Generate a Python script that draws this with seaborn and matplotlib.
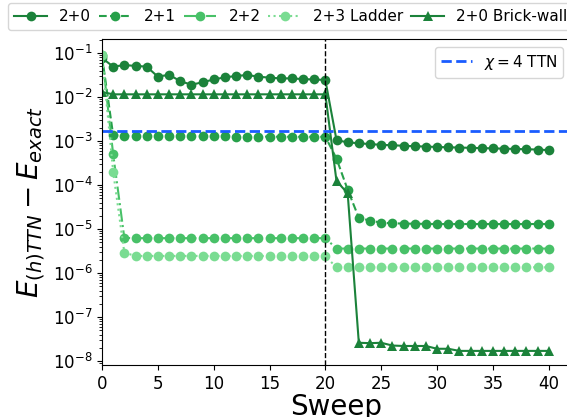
import numpy as np
import pandas as pd
import matplotlib
matplotlib.use("Agg")
import matplotlib.pyplot as plt
import seaborn as sns

# sweep index 0..40
sweeps = list(range(41))

err_2p0 = [0.077, 0.049, 0.053, 0.051, 0.049, 0.029, 0.032, 0.023, 0.019, 0.0216,
           0.025, 0.028, 0.030, 0.0316, 0.029, 0.0275, 0.0265, 0.0265, 0.0255, 0.025,
           0.0244,
           1.05e-3, 9.3e-4, 8.9e-4, 8.5e-4, 8.2e-4, 8.0e-4, 7.8e-4, 7.6e-4, 7.5e-4, 7.3e-4,
           7.2e-4, 7.1e-4, 7.0e-4, 6.9e-4, 6.8e-4, 6.7e-4, 6.6e-4, 6.5e-4, 6.4e-4, 6.2e-4]

err_2p1 = [0.085, 1.35e-3, 1.32e-3, 1.3e-3, 1.3e-3, 1.3e-3, 1.28e-3, 1.28e-3, 1.28e-3, 1.27e-3,
           1.27e-3, 1.27e-3, 1.26e-3, 1.26e-3, 1.26e-3, 1.26e-3, 1.25e-3, 1.25e-3, 1.25e-3, 1.25e-3,
           1.25e-3,
           4.0e-4, 7.8e-5, 1.8e-5, 1.55e-5, 1.4e-5, 1.35e-5, 1.33e-5, 1.32e-5, 1.31e-5, 1.3e-5,
           1.3e-5, 1.3e-5, 1.3e-5, 1.3e-5, 1.3e-5, 1.3e-5, 1.3e-5, 1.3e-5, 1.3e-5, 1.3e-5]

err_2p2 = [0.09, 5.0e-4, 6.3e-6, 6.2e-6, 6.2e-6, 6.2e-6, 6.2e-6, 6.2e-6, 6.2e-6, 6.2e-6,
           6.2e-6, 6.2e-6, 6.2e-6, 6.2e-6, 6.2e-6, 6.2e-6, 6.2e-6, 6.2e-6, 6.2e-6, 6.2e-6,
           6.2e-6,
           3.6e-6, 3.6e-6, 3.6e-6, 3.6e-6, 3.6e-6, 3.6e-6, 3.6e-6, 3.6e-6, 3.6e-6, 3.6e-6,
           3.6e-6, 3.6e-6, 3.6e-6, 3.6e-6, 3.6e-6, 3.6e-6, 3.6e-6, 3.6e-6, 3.6e-6, 3.6e-6]

err_2p3 = [0.09, 2.0e-4, 2.9e-6, 2.45e-6, 2.45e-6, 2.45e-6, 2.45e-6, 2.45e-6, 2.45e-6, 2.45e-6,
           2.45e-6, 2.45e-6, 2.45e-6, 2.45e-6, 2.45e-6, 2.45e-6, 2.45e-6, 2.45e-6, 2.45e-6, 2.45e-6,
           2.4e-6,
           1.35e-6, 1.35e-6, 1.35e-6, 1.35e-6, 1.35e-6, 1.35e-6, 1.35e-6, 1.35e-6, 1.35e-6, 1.35e-6,
           1.35e-6, 1.35e-6, 1.35e-6, 1.35e-6, 1.35e-6, 1.35e-6, 1.35e-6, 1.35e-6, 1.35e-6, 1.35e-6]

err_brick = [0.013, 0.0115, 0.0115, 0.0115, 0.0115, 0.0115, 0.0115, 0.0115, 0.0115, 0.0115,
             0.0115, 0.0115, 0.0115, 0.0115, 0.0115, 0.0115, 0.0115, 0.0115, 0.0115, 0.0115,
             0.0115,
             1.23e-4, 6.5e-5, 2.6e-8, 2.55e-8, 2.6e-8, 2.25e-8, 2.2e-8, 2.2e-8, 2.2e-8, 1.9e-8,
             1.9e-8, 1.7e-8, 1.7e-8, 1.7e-8, 1.7e-8, 1.7e-8, 1.7e-8, 1.7e-8, 1.7e-8, 1.7e-8]

ttn_chi4 = 1.7e-3
switch_sweep = 20

labels = ["2+0", "2+1", "2+2", "2+3 Ladder", "2+0 Brick-wall"]
series = [err_2p0, err_2p1, err_2p2, err_2p3, err_brick]
colors = ["#1b823a", "#27a04a", "#48c168", "#7adc92", "#1b823a"]
styles = ["-", "--", "-.", ":", "-"]
markers = ["o", "o", "o", "o", "^"]

fig = plt.figure(figsize=(5.67, 4.17), dpi=100)
ax = fig.add_axes([102 / 567, 52 / 417, 469 / 567, 326 / 417])

for lab, vals, c, ls, m in zip(labels, series, colors, styles, markers):
    df = pd.DataFrame({"sweep": sweeps, "err": vals})
    sns.lineplot(data=df, x="sweep", y="err", ax=ax, color=c, linestyle=ls,
                 marker=m, markersize=7, markeredgewidth=0, linewidth=1.5, label=lab)

ax.axvline(switch_sweep, color="k", linestyle="--", linewidth=1)
hl = ax.axhline(ttn_chi4, color="#1a5cff", linestyle="--", linewidth=2)

ax.set_yscale("log")
ax.set_xlim(0, 42)
ax.set_ylim(10 ** -8.09, 10 ** -0.682)
ax.set_xticks([0, 5, 10, 15, 20, 25, 30, 35, 40])
ax.tick_params(labelsize=12)
ax.set_xlabel("Sweep", fontsize=20, labelpad=0)
ax.set_ylabel(r"$E_{(h)TTN} - E_{exact}$", fontsize=20)

handles, labs = ax.get_legend_handles_labels()
ax.legend([hl], [r"$\chi = 4$ TTN"], loc="upper right", fontsize=11)
fig.legend(handles[:5], labs[:5], loc="upper left", bbox_to_anchor=(8 / 567, 1 - 3 / 417),
           ncol=5, fontsize=11, handlelength=2.15, columnspacing=0.5,
           borderaxespad=0)

fig.savefig("out.png", dpi=100)
